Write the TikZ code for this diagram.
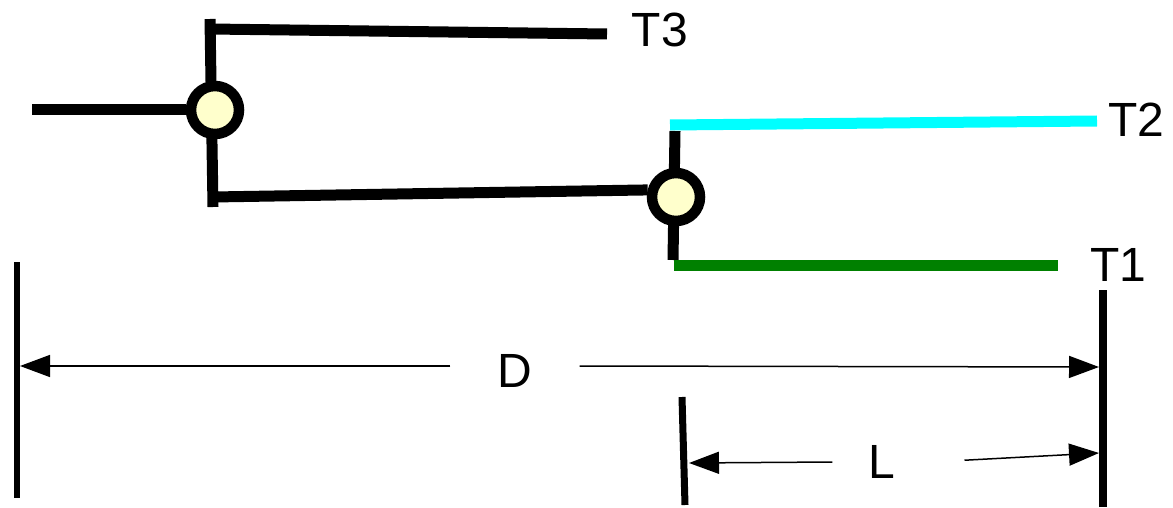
\documentclass[tikz,border=0pt]{standalone}
\usepackage{fontspec}
\setmainfont{Liberation Sans}
\usetikzlibrary{arrows.meta,backgrounds}
\definecolor{nodefill}{RGB}{255,255,204}
\definecolor{leafgreen}{RGB}{0,128,0}
\definecolor{leafcyan}{RGB}{0,255,255}
\begin{document}
\begin{tikzpicture}[x=1pt,y=-1pt,
        branch/.style={line width=11pt},
        junc/.style={circle,draw,line width=10.5pt,fill=nodefill,minimum size=48pt,inner sep=0pt},
        leaf/.style={font=\fontsize{48}{56}\selectfont,inner sep=0pt},
        dimlab/.style={font=\fontsize{48}{56}\selectfont,inner ysep=0pt},
        dimline/.style={line width=1.5pt,-{Triangle[length=30pt,width=22pt]}},
        bar/.style={line width=7pt}]
    \useasboundingbox (0,0) rectangle (1173,508);
    %% internal nodes
    \node[junc] (n1) at (215,110) {};
    \node[junc] (n2) at (676,197) {};
    %% leaves
    \node[leaf] (t3) at (660,30) {T3};
    \node[leaf] (t2) at (1136,120) {T2};
    \node[leaf] (t1) at (1118,265) {T1};
    \coordinate (root) at (32,110);
    \coordinate (n1up) at (210,19);
    \coordinate (n1dn) at (213,207);
    \coordinate (n1a) at (210,29);
    \coordinate (n1b) at (213,197);
    \coordinate (t3end) at (607,34);
    \coordinate (n2up) at (675,131);
    \coordinate (n2dn) at (673,260);
    \coordinate (n2a) at (670,125);
    \coordinate (n2b) at (674,265);
    \coordinate (t2end) at (1097,121);
    \coordinate (t1end) at (1058,265);
    \begin{scope}[on background layer]
        \draw[branch] (root) -- (n1);
        \draw[branch] (n1up) -- (n1dn);
        \draw[branch] (n1a) -- (t3end);
        \draw[branch] (n1b) -- (n2.166);
        \draw[branch] (n2up) -- (n2dn);
        \draw[branch,leafcyan] (n2a) -- (t2end);
        \draw[branch,leafgreen] (n2b) -- (t1end);
    \end{scope}
    %% D and L
    \draw[bar,line width=6pt] (17,262) -- (17,498);
    \draw[bar,line width=8pt] (1103,290) -- (1103,507);
    \draw[bar] (682,397) -- (685,505);
    \coordinate (dleft) at (20,366);
    \coordinate (dright) at (1099,367);
    \coordinate (lleft) at (689,463);
    \coordinate (lright) at (1099,453);
    \node[dimlab,inner xsep=47pt] (dlab) at (515,371) {D};
    \node[dimlab,inner xsep=36pt] (llab) at (882,462) {L};
    \draw[dimline] (dlab.west |- dleft) -- (dleft);
    \draw[dimline] (dlab.east |- dleft) -- (dright);
    \draw[dimline] (llab.west) -- (lleft);
    \draw[dimline,shorten <=33pt] (llab.east) -- (lright);
\end{tikzpicture}
\end{document}
